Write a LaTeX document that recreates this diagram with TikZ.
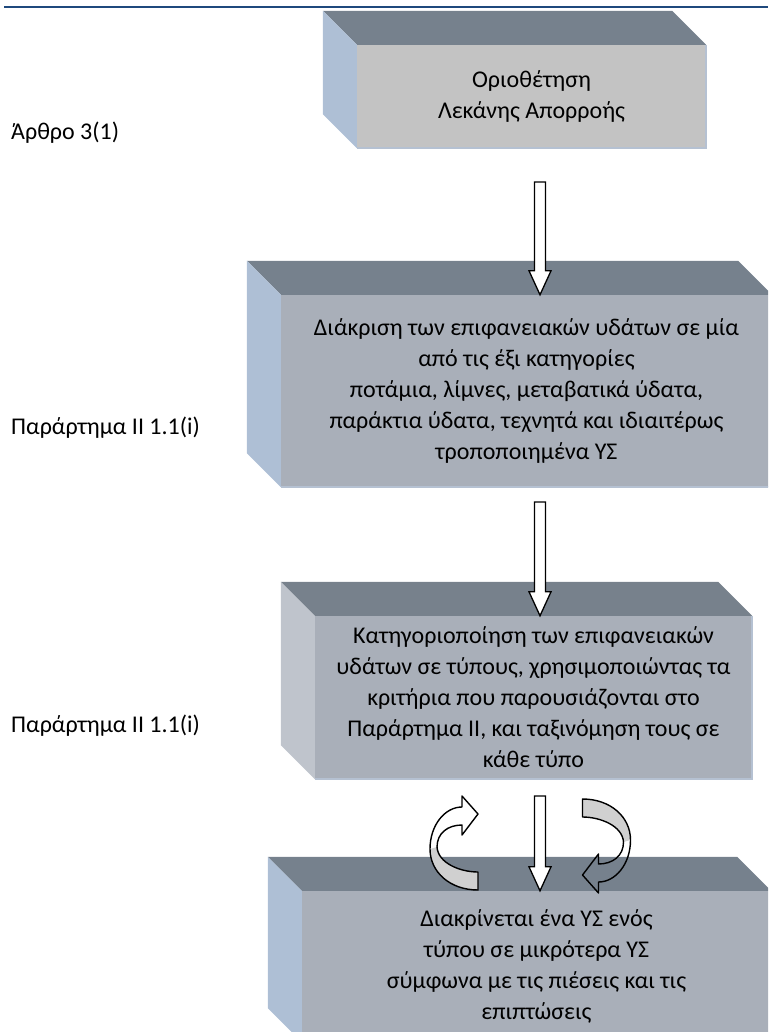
\documentclass[tikz,border=0pt]{standalone}
\usepackage{fontspec}
\setmainfont{Carlito}
\usetikzlibrary{calc}
\definecolor{topface}{HTML}{76818D}
\definecolor{sideface}{HTML}{AEBFD5}
\definecolor{sidegray}{HTML}{BFC4CC}
\definecolor{frontlight}{HTML}{C3C3C3}
\definecolor{frontblue}{HTML}{A9AFB9}
\definecolor{edgeblue}{HTML}{B5C1D2}
\definecolor{headrule}{HTML}{1F497D}
\definecolor{bandgray}{HTML}{D0D0D0}
% top and left faces of a box, from the front node
\newcommand\boxfaces[3]{%
  \fill[#2] (#1.north west) -- ++(-34,-34) -- ($(#1.north east)+(-34,-34)$) -- (#1.north east) -- cycle;
  \fill[#3] (#1.north west) -- ++(-34,-34) -- ($(#1.south west)+(-34,-34)$) -- (#1.south west) -- cycle;
  \draw[edgeblue, line width=2] (#1.south west) -- (#1.south east) -- (#1.north east);
}
% hollow block arrow pointing down
\newcommand\blockarrow[2]{%
  \draw[hollow] let \p1=(#1), \p2=(#2) in
    (\x1-5.5pt,\y1) -- (\x1+5.5pt,\y1) -- (\x1+5.5pt,\y2+24pt) -- (\x1+11pt,\y2+24pt)
    -- (\x1,\y2) -- (\x1-11pt,\y2+24pt) -- (\x1-5.5pt,\y2+24pt) -- cycle;}
\begin{document}
\begin{tikzpicture}[x=1pt, y=-1pt,
    front/.style={inner sep=0pt, align=center, font=\fontsize{24}{31}\selectfont},
    side label/.style={anchor=west, inner sep=0pt, font=\fontsize{24}{31}\selectfont},
    hollow/.style={draw=black, fill=white, line width=1.3},
    turnarrow/.pic={
      \fill[bandgray] (24,47) .. controls (-4,47) and (-24,29) .. (-24,6)
        -- (-17,4) .. controls (-16,20) and (6,29) .. (24,29) -- cycle;
      \draw[line width=1.4, line join=round]
        (24,47) .. controls (-4,47) and (-24,29) .. (-24,6)
        .. controls (-24,-18) and (-9,-36) .. (8,-36) -- (8,-47) -- (24,-29) -- (8,-8) -- (8,-18)
        .. controls (-6,-18) and (-17,-10) .. (-17,4)
        .. controls (-16,20) and (6,29) .. (24,29) -- cycle;
    }]
\useasboundingbox (0,0) rectangle (768,1032);
\clip (0,0) rectangle (768,1032);

\draw[headrule, line width=2.5] (4,7) -- (768,7);

% boxes
\node[front, fill=frontlight, minimum width=349, minimum height=103] (b1) at (531.5,96.5)
  {Οριοθέτηση\\Λεκάνης Απορροής};
\boxfaces{b1}{topface}{sideface}
\node[front, fill=frontblue, minimum width=491, minimum height=192] (b2) at (526.5,391)
  {Διάκριση των επιφανειακών υδάτων σε μία\\από τις έξι κατηγορίες\\ποτάμια, λίμνες, μεταβατικά ύδατα,\\παράκτια ύδατα, τεχνητά και ιδιαιτέρως\\τροποποιημένα ΥΣ};
\boxfaces{b2}{topface}{sideface}
\node[front, fill=frontblue, minimum width=437, minimum height=163] (b3) at (533.5,697.5)
  {Κατηγοριοποίηση των επιφανειακών\\υδάτων σε τύπους, χρησιμοποιώντας τα\\κριτήρια που παρουσιάζονται στο\\Παράρτημα II, και ταξινόμηση τους σε\\κάθε τύπο};
\boxfaces{b3}{topface!90!gray}{sidegray}
\node[front, fill=frontblue, minimum width=469, minimum height=151] (b4) at (536.5,966.5)
  {Διακρίνεται ένα ΥΣ ενός\\τύπου σε μικρότερα ΥΣ\\σύμφωνα με τις πιέσεις και τις\\επιπτώσεις};
\boxfaces{b4}{topface}{sideface}

% labels on the left
\node[side label] (art) at (11,133) {Άρθρο 3(1)};
\node[side label] (par1) at (11,428) {Παράρτημα II 1.1(i)};
\node[side label] (par2) at (11,726) {Παράρτημα II 1.1(i)};

% arrows
\coordinate (a1) at (540,182);
\coordinate (a2) at (540,502);
\coordinate (a3) at (540,796);
\blockarrow{a1}{b2.north -| a1}
\blockarrow{a2}{b3.north -| a2}
\blockarrow{a3}{b4.north -| a3}
\pic at (454,843) {turnarrow};
\pic[rotate=180] at (606.5,846) {turnarrow};
\end{tikzpicture}
\end{document}
